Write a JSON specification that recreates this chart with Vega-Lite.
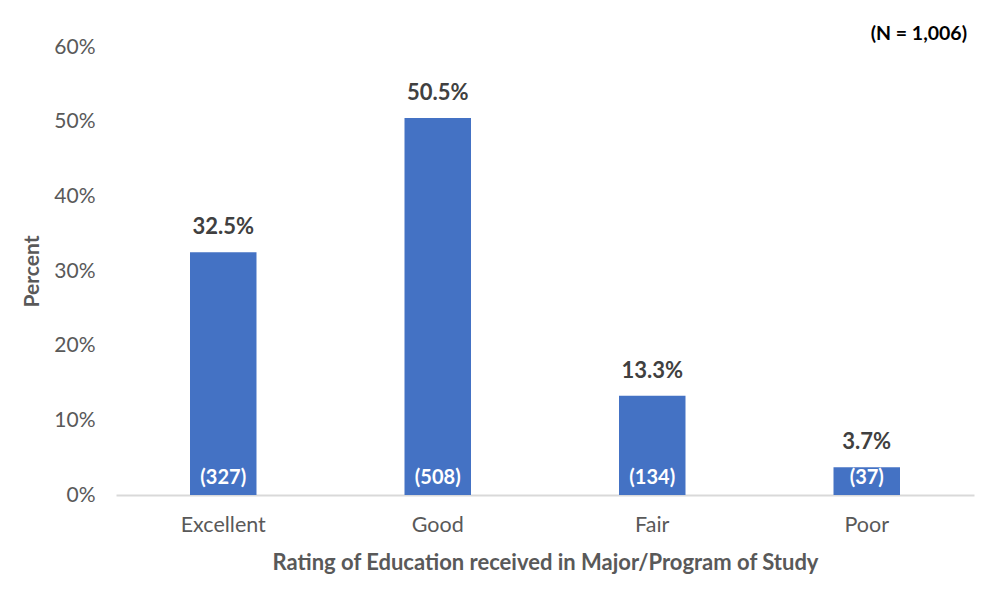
{
  "$schema": "https://vega.github.io/schema/vega-lite/v6.json",
  "autosize": {"type": "none"},
  "padding": {"left": 116, "top": 47, "right": 19, "bottom": 116},
  "width": 858,
  "height": 448,
  "background": "white",
  "config": {
    "font": "Lato",
    "view": {"stroke": null}
  },
  "title": {
    "text": "(N = 1,006)",
    "anchor": "end",
    "orient": "top",
    "fontSize": 19.5,
    "fontWeight": "bold",
    "color": "#000000",
    "baseline": "bottom",
    "offset": -27,
    "dx": -7
  },
  "data": {
    "values": [
      {"rating": "Excellent", "percent": 0.325, "count": 327},
      {"rating": "Good", "percent": 0.505, "count": 508},
      {"rating": "Fair", "percent": 0.133, "count": 134},
      {"rating": "Poor", "percent": 0.037, "count": 37}
    ]
  },
  "transform": [{"calculate": "'(' + datum.count + ')'", "as": "countLabel"}],
  "encoding": {
    "x": {
      "field": "rating",
      "type": "nominal",
      "sort": null,
      "scale": {"paddingInner": 0.69, "paddingOuter": 0.345},
      "axis": {
        "title": "Rating of Education received in Major/Program of Study",
        "titleFontSize": 22,
        "titleFontWeight": "bold",
        "titleColor": "#595959",
        "titlePadding": 17,
        "labelAngle": 0,
        "labelFontSize": 21.5,
        "labelColor": "#595959",
        "labelPadding": 19,
        "ticks": false,
        "domainColor": "#d9d9d9",
        "domainWidth": 2,
        "grid": false
      }
    }
  },
  "layer": [
    {
      "mark": {"type": "bar", "color": "#4472C4"},
      "encoding": {
        "y": {
          "field": "percent",
          "type": "quantitative",
          "scale": {"domain": [0, 0.6]},
          "axis": {
            "title": "Percent",
            "titleFontSize": 21,
            "titleFontWeight": "bold",
            "titleColor": "#595959",
            "titlePadding": 11,
            "values": [0, 0.1, 0.2, 0.3, 0.4, 0.5, 0.6],
            "format": ".0%",
            "labelFontSize": 21,
            "labelColor": "#595959",
            "labelPadding": 21,
            "ticks": false,
            "domain": false,
            "grid": false
          }
        }
      }
    },
    {
      "mark": {"type": "text", "fontSize": 22, "fontWeight": "bold", "color": "#404040", "baseline": "bottom", "dy": -13},
      "encoding": {
        "y": {"field": "percent", "type": "quantitative"},
        "text": {"field": "percent", "type": "quantitative", "format": ".1%"}
      }
    },
    {
      "mark": {"type": "text", "fontSize": 20, "fontWeight": "bold", "color": "#ffffff", "baseline": "bottom", "dy": -7},
      "encoding": {
        "y": {"datum": 0},
        "text": {"field": "countLabel", "type": "nominal"}
      }
    }
  ]
}
